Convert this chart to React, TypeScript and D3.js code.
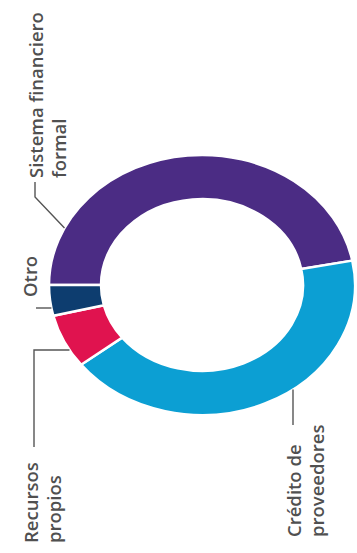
import React from "react";
import * as d3 from "d3";

const categories = ["Sistema financiero formal", "Crédito de proveedores", "Recursos propios", "Otro"];
const values = [47, 42.5, 6.7, 3.8];
const colors = ["#4b2c84", "#0c9fd3", "#e0134f", "#0d3d6f"];

const W = 357;
const H = 553;
const CX = 202;
const CY = 285;
const R_OUT = 153;
const R_IN = 101;
const SY = 0.85;

function ringXLeft(y: number) {
  const t = (y - CY) / (R_OUT * SY);
  return CX - R_OUT * Math.sqrt(Math.max(0, 1 - t * t));
}
function ringYBottom(x: number) {
  const t = (x - CX) / R_OUT;
  return CY + R_OUT * SY * Math.sqrt(Math.max(0, 1 - t * t));
}
function ringPoint(angleDeg: number) {
  const a = (angleDeg * Math.PI) / 180;
  return [CX + R_OUT * Math.sin(a), CY - R_OUT * SY * Math.cos(a)];
}

export default function App() {
  const pie = d3
    .pie<number>()
    .sort(null)
    .startAngle(-Math.PI / 2)
    .endAngle((3 * Math.PI) / 2)(values);
  const arc = d3.arc<d3.PieArcDatum<number>>().innerRadius(R_IN).outerRadius(R_OUT);

  const font = "'Open Sans', 'Noto Sans', sans-serif";
  const fs = 18.5;
  const textColor = "#505050";
  const lineColor = "#555";

  const sp = ringPoint(296);
  const otroX = ringXLeft(308);
  const recX = ringXLeft(350);
  const credY = ringYBottom(293);

  const label = (x: number, y: number, t: string, key: string) => (
    <text
      key={key}
      transform={`translate(${x},${y}) rotate(-90)`}
      fontFamily={font}
      fontSize={fs}
      fontWeight={600}
      fill={textColor}
    >
      {t}
    </text>
  );

  return (
    <svg width={W} height={H} style={{ display: "block", position: "absolute", left: 0, top: 0 }}>
      <rect width={W} height={H} fill="#fff" />
      <g transform={`translate(${CX},${CY}) scale(1,${SY})`}>
        {pie.map((d, i) => (
          <path
            key={i}
            d={arc(d) || ""}
            fill={colors[i]}
            stroke="#fff"
            strokeWidth={2.5}
            vectorEffect="non-scaling-stroke"
          />
        ))}
      </g>
      <g fill="none" stroke={lineColor} strokeWidth={1.4}>
        <polyline points={`35,182 35,197 ${sp[0]},${sp[1]}`} />
        <line x1={36} y1={308} x2={otroX} y2={308} />
        <polyline points={`34,447 34,350 ${recX},350`} />
        <line x1={293} y1={425} x2={293} y2={credY} />
      </g>
      {label(43, 178, "Sistema financiero", "s1")}
      {label(66, 178, "formal", "s2")}
      {label(37, 297, "Otro", "o1")}
      {label(38, 543, "Recursos", "r1")}
      {label(61, 543, "propios", "r2")}
      {label(301, 537, "Crédito de", "c1")}
      {label(324, 537, "proveedores", "c2")}
    </svg>
  );
}
